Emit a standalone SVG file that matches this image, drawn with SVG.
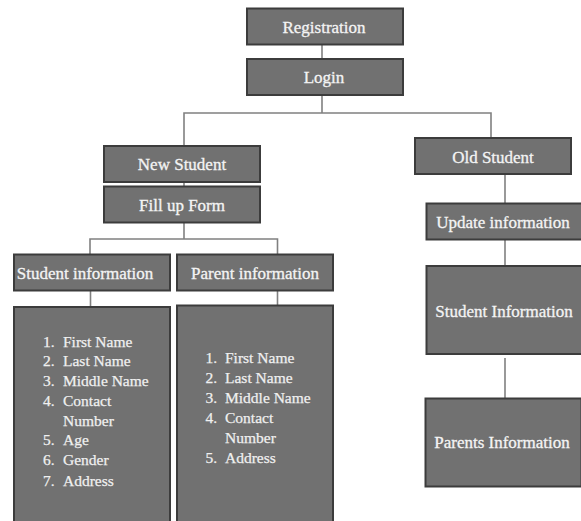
<svg xmlns="http://www.w3.org/2000/svg" width="581" height="521" viewBox="0 0 581 521">
<style>
.box{fill:#717171;stroke:#3c3c3c;stroke-width:2}
.lbl{font-size:17px;fill:#f4f4f4;stroke:#f4f4f4;stroke-width:0.3;text-anchor:middle}
.lst{font-size:15.5px;fill:#f0f0f0;stroke:#f0f0f0;stroke-width:0.25}
.con{stroke:#808080;stroke-width:1.6;fill:none}
</style>
<rect width="581" height="521" fill="#ffffff"/>
<g id="connectors">
<path class="con" d="M322 44V59"/>
<path class="con" d="M322 95V113"/>
<path class="con" d="M184 146V113H491V138"/>
<path class="con" d="M184 182V186"/>
<path class="con" d="M184 223V239"/>
<path class="con" d="M90 255V239H277.5V255"/>
<path class="con" d="M90.5 291V307"/>
<path class="con" d="M277.5 291V305"/>
<path class="con" d="M505 174V203"/>
<path class="con" d="M505 239V266"/>
<path class="con" d="M505 358V398"/>
</g>
<g font-family="'Liberation Serif', 'Times New Roman', 'DejaVu Serif', serif">
<g id="registration"><rect class="box" x="247" y="8.5" width="156" height="36"/><text class="lbl" x="324" y="33">Registration</text></g>
<g id="login"><rect class="box" x="247" y="59" width="156" height="36"/><text class="lbl" x="324" y="83">Login</text></g>
<g id="new-student"><rect class="box" x="104" y="146" width="156" height="36"/><text class="lbl" x="182" y="170">New Student</text></g>
<g id="fill-up-form"><rect class="box" x="104" y="186.5" width="156" height="36"/><text class="lbl" x="182" y="211">Fill up Form</text></g>
<g id="student-information"><rect class="box" x="14" y="254.5" width="156" height="36"/><text class="lbl" x="85" y="279">Student information</text></g>
<g id="parent-information"><rect class="box" x="177" y="254.5" width="156" height="36"/><text class="lbl" x="255" y="279">Parent information</text></g>
<g id="student-list"><rect class="box" x="14" y="307" width="156" height="220"/>
<text class="lst"><tspan x="43" y="346.5">1.</tspan><tspan x="63" y="346.5">First Name</tspan><tspan x="43" y="366">2.</tspan><tspan x="63" y="366">Last Name</tspan><tspan x="43" y="386">3.</tspan><tspan x="63" y="386">Middle Name</tspan><tspan x="43" y="405.5">4.</tspan><tspan x="63" y="405.5">Contact</tspan><tspan x="63" y="425.5">Number</tspan><tspan x="43" y="445">5.</tspan><tspan x="63" y="445">Age</tspan><tspan x="43" y="465">6.</tspan><tspan x="63" y="465">Gender</tspan><tspan x="43" y="485.5">7.</tspan><tspan x="63" y="485.5">Address</tspan></text></g>
<g id="parent-list"><rect class="box" x="177" y="305.5" width="156" height="220"/>
<text class="lst"><tspan x="205.5" y="363">1.</tspan><tspan x="225" y="363">First Name</tspan><tspan x="205.5" y="383">2.</tspan><tspan x="225" y="383">Last Name</tspan><tspan x="205.5" y="402.5">3.</tspan><tspan x="225" y="402.5">Middle Name</tspan><tspan x="205.5" y="423">4.</tspan><tspan x="225" y="423">Contact</tspan><tspan x="225" y="442.5">Number</tspan><tspan x="205.5" y="462.5">5.</tspan><tspan x="225" y="462.5">Address</tspan></text></g>
<g id="old-student"><rect class="box" x="415" y="138" width="156" height="36"/><text class="lbl" x="493" y="163">Old Student</text></g>
<g id="update-information"><rect class="box" x="426.5" y="203.5" width="156" height="36"/><text class="lbl" x="503" y="228">Update information</text></g>
<g id="student-information-r"><rect class="box" x="426.5" y="266" width="156" height="88"/><text class="lbl" x="504" y="316.5">Student Information</text></g>
<g id="parents-information"><rect class="box" x="425.5" y="398.5" width="156" height="88"/><text class="lbl" x="502" y="448">Parents Information</text></g>
</g>
</svg>
